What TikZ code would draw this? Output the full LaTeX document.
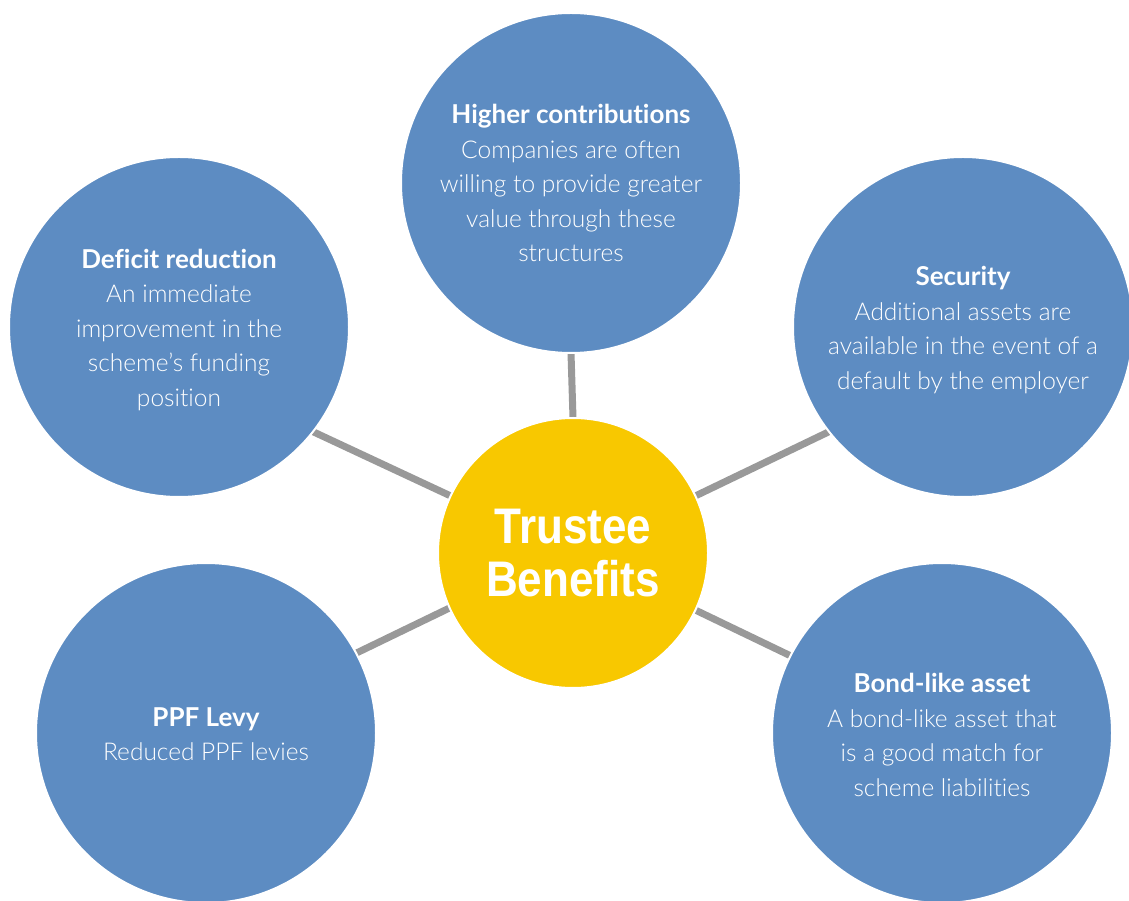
\documentclass[tikz,border=0pt]{standalone}
\usepackage{fontspec}
\setmainfont{Lato}[UprightFont=* Light, BoldFont=* Bold, RawFeature=-liga]
\newfontfamily\hubfont{Liberation Sans}[FakeStretch=0.88]
\usetikzlibrary{backgrounds}
\definecolor{petalblue}{HTML}{5D8CC2}
\definecolor{hubyellow}{HTML}{F8C800}
\definecolor{spokegray}{HTML}{999999}
\newcommand{\heading}[1]{{\bfseries\fontsize{26}{34.5}\selectfont #1}}
\begin{document}
\begin{tikzpicture}[x=1pt,y=1pt,
  petal/.style={circle, fill=petalblue, draw=white, line width=2pt,
    minimum size=340pt, inner sep=0pt, outer sep=0pt},
  petaltext/.style={inner sep=0pt, text=white, align=center,
    font=\fontsize{24.5}{34.5}\selectfont},
  hubnode/.style={circle, fill=hubyellow, draw=white, line width=2pt,
    minimum size=270pt, inner sep=0pt, outer sep=0pt, text=white,
    align=center, font=\hubfont\bfseries\fontsize{50}{53}\selectfont},
  spokeline/.style={draw=spokegray, line width=7pt}]
\useasboundingbox (0,0) rectangle (1129,900);
\clip (0,0) rectangle (1129,900);

% central hub
\node[hubnode] (hub) at (573,347) {Trustee\\Benefits};

% surrounding benefit circles
\node[petal] (higher)   at (571,717) {};
\node[petal] (deficit)  at (179,573) {};
\node[petal] (security) at (963,573) {};
\node[petal] (ppf)      at (206,167) {};
\node[petal] (bond)     at (942,167) {};

% their captions
\node[petaltext] (higher-text) at (higher.center)
  {\heading{Higher contributions}\\Companies are often\\willing to provide greater\\value through these\\structures};
\node[petaltext] (deficit-text) at ([yshift=-3pt]deficit.center)
  {\heading{Deficit reduction}\\An immediate\\improvement in the\\scheme’s funding\\position};
\node[petaltext] (security-text) at ([yshift=-3pt]security.center)
  {\heading{Security}\\Additional assets are\\available in the event of a\\default by the employer};
\node[petaltext] (ppf-text) at ([yshift=-1pt]ppf.center)
  {\heading{PPF Levy}\\Reduced PPF levies};
\node[petaltext] (bond-text) at ([yshift=-2pt]bond.center)
  {\heading{Bond-like asset}\\A bond-like asset that\\is a good match for\\scheme liabilities};

% spokes behind the circles
\begin{pgfonlayer}{background}
  \draw[spokeline] (hub.90)   -- (higher.-90);
  \draw[spokeline] (hub.155)  -- (deficit.-38);
  \draw[spokeline] (hub.25)   -- (security.-142);
  \draw[spokeline] (hub.204)  -- (ppf.28);
  \draw[spokeline] (hub.-25)  -- (bond.153);
\end{pgfonlayer}
\end{tikzpicture}
\end{document}
